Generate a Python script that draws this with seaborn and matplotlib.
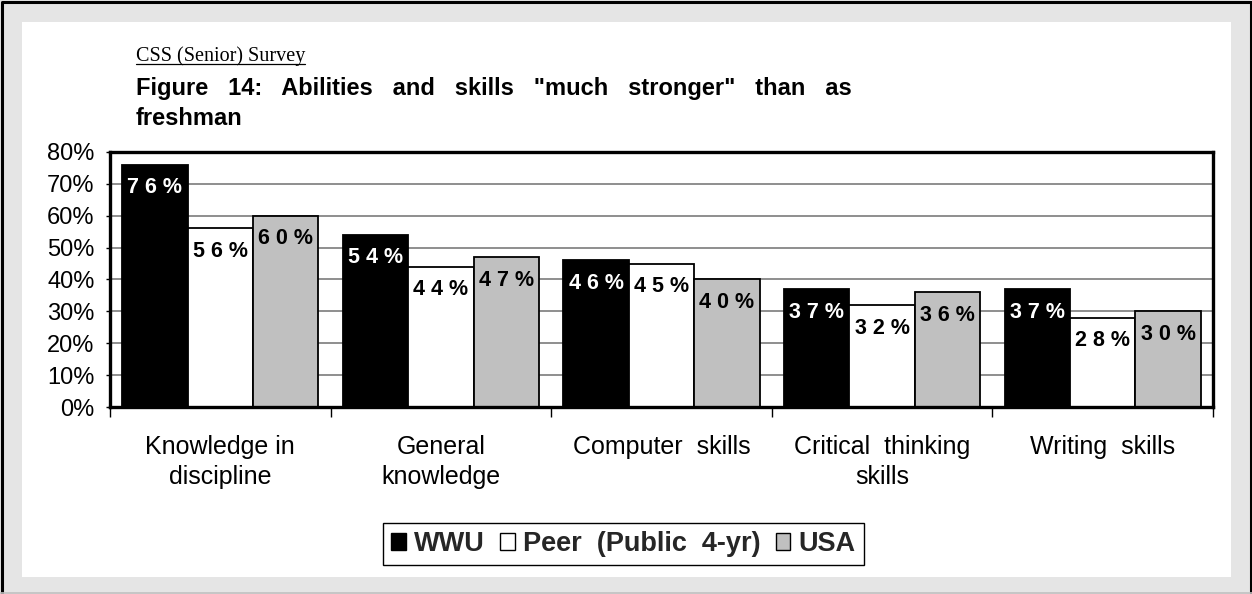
import warnings
warnings.filterwarnings("ignore")
import numpy as np
import pandas as pd
import matplotlib
matplotlib.use('Agg')
from matplotlib import pyplot as plt
from matplotlib.patches import Rectangle, Patch
from matplotlib.lines import Line2D
import seaborn as sns

# data
categories = ["Knowledge in\ndiscipline", "General\nknowledge", "Computer  skills",
              "Critical  thinking\nskills", "Writing  skills"]
groups = ["WWU", "Peer  (Public  4-yr)", "USA"]
wwu = [76, 54, 46, 37, 37]
peer = [56, 44, 45, 32, 28]
usa = [60, 47, 40, 36, 30]
y_ticks = [0, 10, 20, 30, 40, 50, 60, 70, 80]

colors = {"WWU": "#000000", "Peer  (Public  4-yr)": "#ffffff", "USA": "#c0c0c0"}
label_colors = {"WWU": "white", "Peer  (Public  4-yr)": "black", "USA": "black"}

df = pd.DataFrame({
    "category": categories * 3,
    "group": [groups[0]] * 5 + [groups[1]] * 5 + [groups[2]] * 5,
    "value": wwu + peer + usa,
})

sns.set_theme(style="white")
plt.rcParams['font.family'] = ['Liberation Sans', 'DejaVu Sans']

W, H = 1252, 594
fig = plt.figure(figsize=(W / 100, H / 100), dpi=100)
fig.patch.set_facecolor("#e5e5e5")


def fx(px):
    return px / W


def fy(py):
    return 1 - py / H


# white inner panel and outer frame
fig.add_artist(Rectangle((fx(22), fy(577)), fx(1231) - fx(22), fy(22) - fy(577),
                         transform=fig.transFigure, facecolor="white", edgecolor="none", zorder=0))
fig.add_artist(Line2D([fx(1.5), fx(1.5), fx(1250.5), fx(1250.5)], [fy(593), fy(1.5), fy(1.5), fy(593)],
                      transform=fig.transFigure, color="black", lw=2.2))
fig.add_artist(Line2D([fx(0), fx(1252)], [fy(593), fy(593)], transform=fig.transFigure,
                      color="#c0c0c0", lw=1.2))

ax = fig.add_axes([fx(110), fy(407), fx(1213) - fx(110), fy(152) - fy(407)])
ax.set_facecolor("white")

sns.barplot(data=df, x="category", y="value", hue="group", hue_order=groups, order=categories,
            palette=colors, saturation=1, width=0.89, gap=0, edgecolor="black", linewidth=1.3,
            legend=False, ax=ax, zorder=3)

ax.set_ylim(0, 80)
ax.set_xlim(-0.5, len(categories) - 0.5)
ax.set_yticks(y_ticks)
ax.set_yticklabels([f"{t}%" for t in y_ticks])
ax.yaxis.grid(True, color="#707070", lw=1.1, zorder=0)
ax.set_axisbelow(True)
ax.set_xlabel("")
ax.set_ylabel("")

for side in ["top", "right", "left", "bottom"]:
    ax.spines[side].set_visible(True)
    ax.spines[side].set_color("black")
    ax.spines[side].set_linewidth(2.4)
    ax.spines[side].set_zorder(5)

ax.tick_params(axis="y", which="major", direction="out", length=3, width=1, color="black",
               labelsize=17, pad=8, labelcolor="black", left=True)
ax.tick_params(axis="x", which="major", length=0, labelsize=18, pad=20, labelcolor="black")
for lab in ax.get_xticklabels():
    lab.set_linespacing(1.32)
ax.set_xticks(np.arange(-0.5, len(categories), 1.0), minor=True)
ax.tick_params(axis="x", which="minor", direction="out", length=7, width=1, color="black", bottom=True)

# value labels, letter spaced like the original
for grp, container in zip(groups, ax.containers):
    for bar in container:
        v = bar.get_height()
        txt = " ".join(f"{int(round(v))}%")
        ax.annotate(txt, (bar.get_x() + bar.get_width() / 2, v), xytext=(0, -9),
                    textcoords="offset points", ha="center", va="top", fontsize=15.5,
                    fontweight="bold", color=label_colors[grp], zorder=6)

# titles
sub = fig.text(fx(136), fy(61), "CSS (Senior) Survey", family=["Liberation Serif", "DejaVu Serif"],
               fontsize=14.5, color="black", va="baseline", ha="left")
fig.text(fx(136), fy(95), 'Figure   14:   Abilities   and   skills   "much   stronger"   than   as',
         fontsize=17, fontweight="bold", va="baseline", ha="left", color="black")
fig.text(fx(136), fy(125), "freshman", fontsize=17, fontweight="bold", va="baseline", ha="left",
         color="black")

fig.canvas.draw()
bb = sub.get_window_extent(renderer=fig.canvas.get_renderer())
fig.add_artist(Line2D([bb.x0 / W, bb.x1 / W], [fy(64), fy(64)], transform=fig.transFigure,
                      color="black", lw=0.9))

# legend
handles = [Patch(facecolor=colors[g], edgecolor="black", linewidth=1) for g in groups]
leg = fig.legend(handles, groups, loc="center", bbox_to_anchor=(fx(623.5), fy(544)), ncol=3,
                 frameon=True, fancybox=False, edgecolor="black", framealpha=1,
                 prop={"size": 19.5, "weight": "bold"}, handlelength=0.55, handleheight=0.55,
                 handletextpad=0.3, columnspacing=0.55, borderpad=0.3, borderaxespad=0)
leg.get_frame().set_linewidth(1)

fig.savefig("out.png", dpi=100, facecolor=fig.get_facecolor())
